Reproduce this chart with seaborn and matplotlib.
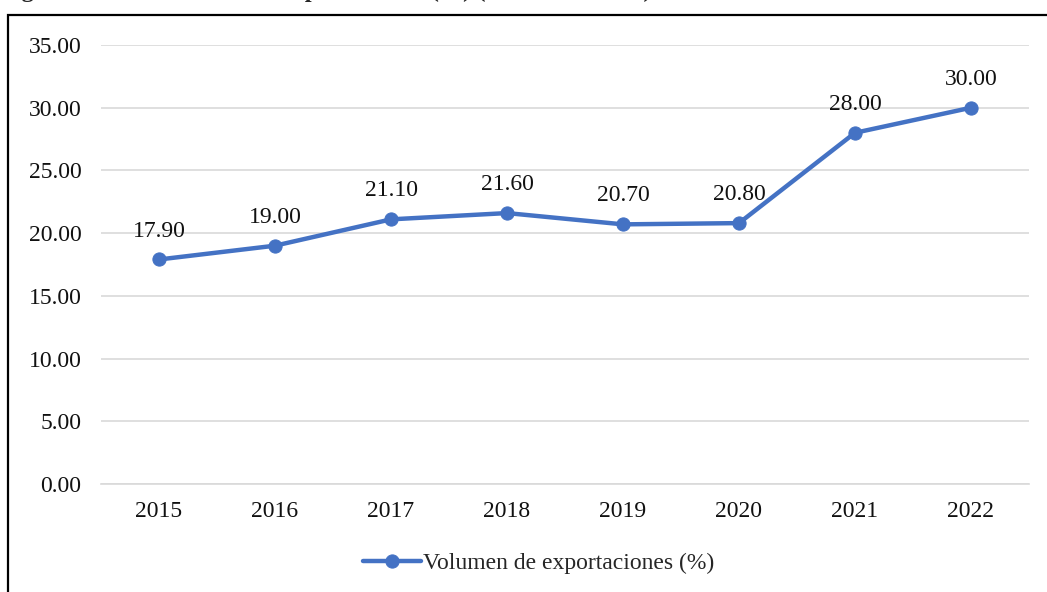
import numpy as np
import pandas as pd
import matplotlib
from matplotlib import pyplot as plt
from matplotlib.patches import Rectangle
import seaborn as sns

years = ['2015', '2016', '2017', '2018', '2019', '2020', '2021', '2022']
volumen = [17.9, 19.0, 21.1, 21.6, 20.7, 20.8, 28.0, 30.0]
serie = 'Volumen de exportaciones (%)'
yticks = [0, 5, 10, 15, 20, 25, 30, 35]
caption = 'Figura 1. Volumen total de exportaciones (%) (años 2015-2022)'

sns.set_style('white')
plt.rcParams['font.family'] = ['Liberation Serif', 'DejaVu Serif']
plt.rcParams['font.size'] = 17

df = pd.DataFrame({'year': years, 'value': volumen})

fig = plt.figure(figsize=(10.47, 5.92), dpi=100)
ax = fig.add_axes([101 / 1047, 1 - 484 / 592, (1029 - 101) / 1047, (484 - 45) / 592])

blue = '#4472C4'
sns.lineplot(data=df, x='year', y='value', ax=ax, color=blue, linewidth=3.2,
             marker='o', markersize=9.5, markeredgecolor=blue, label=serie, sort=False)

for i, v in enumerate(volumen):
    ax.annotate(f'{v:.2f}', (i, v), xytext=(0, 16.5), textcoords='offset points',
                ha='center', va='baseline', fontsize=17, color='#111111')

ax.set_xlim(-0.5, len(years) - 0.5)
ax.set_ylim(0, 35)
ax.set_yticks(yticks)
ax.set_yticklabels([f'{t:.2f}' for t in yticks])
ax.set_xlabel('')
ax.set_ylabel('')
ax.grid(axis='y', color='#d9d9d9', linewidth=1.2)
ax.set_axisbelow(True)
for s in ['top', 'right', 'left']:
    ax.spines[s].set_visible(False)
ax.spines['bottom'].set_color('#d9d9d9')
ax.spines['bottom'].set_linewidth(1.2)
ax.tick_params(axis='both', length=0, labelsize=17, colors='#111111')
ax.tick_params(axis='y', pad=14)
ax.tick_params(axis='x', pad=12)

ax.legend(loc='center', bbox_to_anchor=(0.472, -0.18), frameon=False,
          fontsize=17, handlelength=2.45, handletextpad=0.1)

# outer frame of the figure box (cut at right/bottom edges)
fig.patches.append(Rectangle((8 / 1047, -0.05), 1.1, 1 - 15 / 592 + 0.05,
                             transform=fig.transFigure, fill=False,
                             edgecolor='black', linewidth=1.6))

# caption above the box, mostly cut by the top edge
fig.text(0.0, 1 + 2.5 / 592, caption,
         ha='left', va='baseline', fontsize=17.5, fontweight='bold')

fig.savefig('out.png', dpi=100)
